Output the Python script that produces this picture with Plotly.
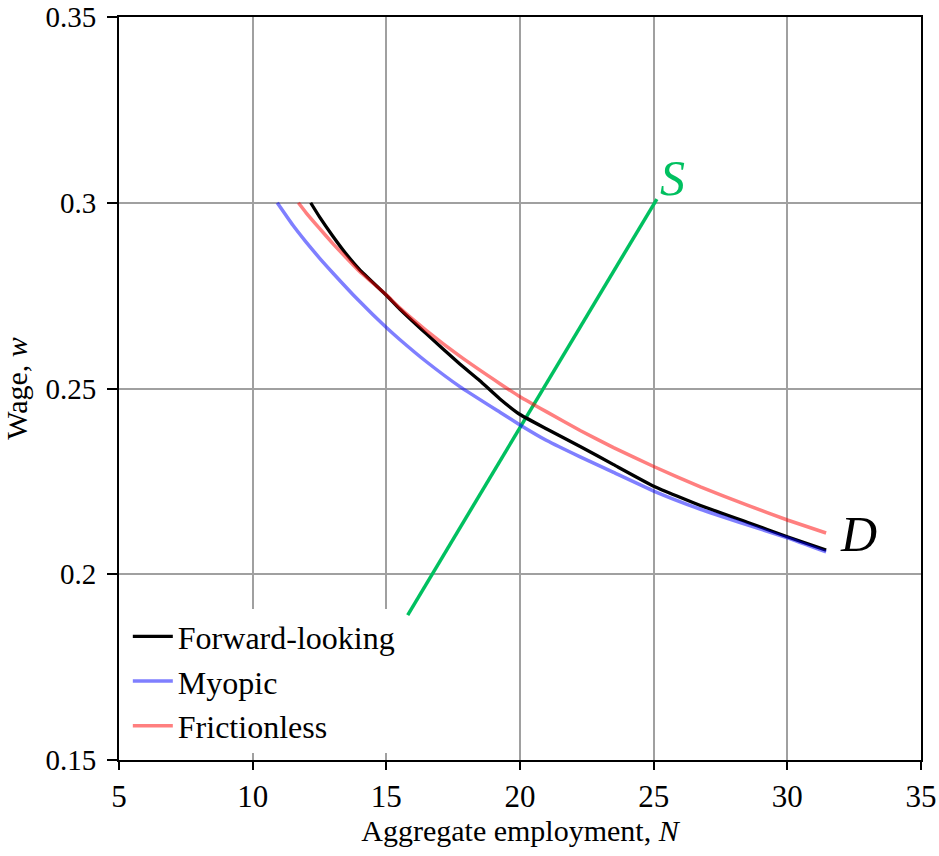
import plotly.graph_objects as go

# ---- data ----
fwd_N = [12.17, 12.5, 13.0, 13.5, 14.0, 15.0, 15.5, 16.5, 17.75, 18.5, 19.25, 20.0, 21.0, 22.25, 23.5, 25.0, 26.75, 28.5, 30.0, 31.45]
fwd_w = [0.300, 0.2962, 0.2910, 0.2862, 0.2820, 0.2751, 0.2714, 0.2647, 0.2566, 0.2521, 0.2472, 0.2430, 0.2391, 0.2344, 0.2295, 0.2237, 0.2185, 0.2140, 0.2101, 0.2065]

myo_N = [10.92, 11.5, 12.0, 12.5, 13.0, 13.95, 15.0, 15.5, 16.5, 17.75, 19.25, 20.0, 21.0, 22.25, 23.5, 25.0, 26.75, 28.5, 30.0, 31.45]
myo_w = [0.300, 0.2940, 0.2894, 0.2851, 0.2811, 0.2738, 0.2664, 0.2632, 0.2572, 0.2505, 0.2436, 0.2402, 0.2360, 0.2316, 0.2274, 0.2224, 0.2175, 0.2133, 0.2098, 0.2060]

fric_N = [11.71, 12.0, 12.5, 13.0, 13.5, 14.0, 15.0, 15.5, 16.5, 17.75, 19.25, 20.0, 21.0, 22.25, 23.5, 25.0, 26.75, 28.5, 30.0, 31.45]
fric_w = [0.300, 0.2973, 0.2931, 0.2890, 0.2852, 0.2815, 0.2752, 0.2717, 0.2656, 0.2587, 0.2513, 0.2478, 0.2437, 0.2387, 0.2341, 0.2290, 0.2235, 0.2186, 0.2146, 0.2111]

supply_N = [15.8, 25.12]
supply_w = [0.189, 0.301]

x_ticks = [5, 10, 15, 20, 25, 30, 35]
y_ticks = [0.15, 0.2, 0.25, 0.3, 0.35]
y_tick_text = ["0.15", "0.2", "0.25", "0.3", "0.35"]

FONT = "Liberation Serif"
GREEN = "#00C060"

fig = go.Figure()
fig.add_trace(go.Scatter(x=supply_N, y=supply_w, mode="lines", showlegend=False,
                         line=dict(color=GREEN, width=3.5), hoverinfo="skip"))
fig.add_trace(go.Scatter(x=fwd_N, y=fwd_w, mode="lines", name="Forward-looking",
                         legendgroup="a", line=dict(color="black", width=3.3, shape="spline", smoothing=0.4)))
fig.add_trace(go.Scatter(x=myo_N, y=myo_w, mode="lines", name="Myopic",
                         legendgroup="b", line=dict(color="rgba(0,0,255,0.5)", width=3.5, shape="spline", smoothing=0.4)))
fig.add_trace(go.Scatter(x=fric_N, y=fric_w, mode="lines", name="Frictionless",
                         legendgroup="c", line=dict(color="rgba(255,0,0,0.5)", width=3.5, shape="spline", smoothing=0.4)))

fig.add_annotation(x=supply_N[-1], y=supply_w[-1], text="<i>S</i>", showarrow=False,
                   xshift=16, yshift=21, font=dict(family=FONT, size=50, color=GREEN))
fig.add_annotation(x=fwd_N[-1], y=fwd_w[-1], text="<i>D</i>", showarrow=False,
                   xshift=32, yshift=16, font=dict(family=FONT, size=50, color="black"))

axis_common = dict(showline=True, linecolor="black", linewidth=2, mirror=True,
                   showgrid=True, gridcolor="#A0A0A0", gridwidth=1.5, zeroline=False,
                   ticks="outside", tickcolor="black", tickwidth=2, automargin=False,
                   ticklabeloverflow="allow")

fig.update_layout(
    width=939, height=856,
    margin=dict(l=119, r=18, t=17, b=96),
    plot_bgcolor="white", paper_bgcolor="white",
    font=dict(family=FONT, size=30, color="black"),
    showlegend=True,
    legend=dict(x=0.011, y=0.203, xanchor="left", yanchor="top", bgcolor="white",
                borderwidth=0, font=dict(family=FONT, size=32, color="black"),
                tracegroupgap=0, itemwidth=40, entrywidth=245, entrywidthmode="pixels"),
    xaxis=dict(range=[5, 35], tickvals=x_ticks, ticklen=8,
               tickfont=dict(family=FONT, size=31, color="black"),
               title=dict(text="Aggregate employment, <i>N</i>", standoff=4,
                          font=dict(family=FONT, size=30)),
               **axis_common),
    yaxis=dict(range=[0.15, 0.35], tickvals=y_ticks, ticktext=y_tick_text, ticklen=10,
               ticklabelstandoff=5,
               tickfont=dict(family=FONT, size=29, color="black"),
               title=dict(text="Wage, <i>w</i>", standoff=10, font=dict(family=FONT, size=30)),
               **axis_common),
)

fig.write_html("out.html")
